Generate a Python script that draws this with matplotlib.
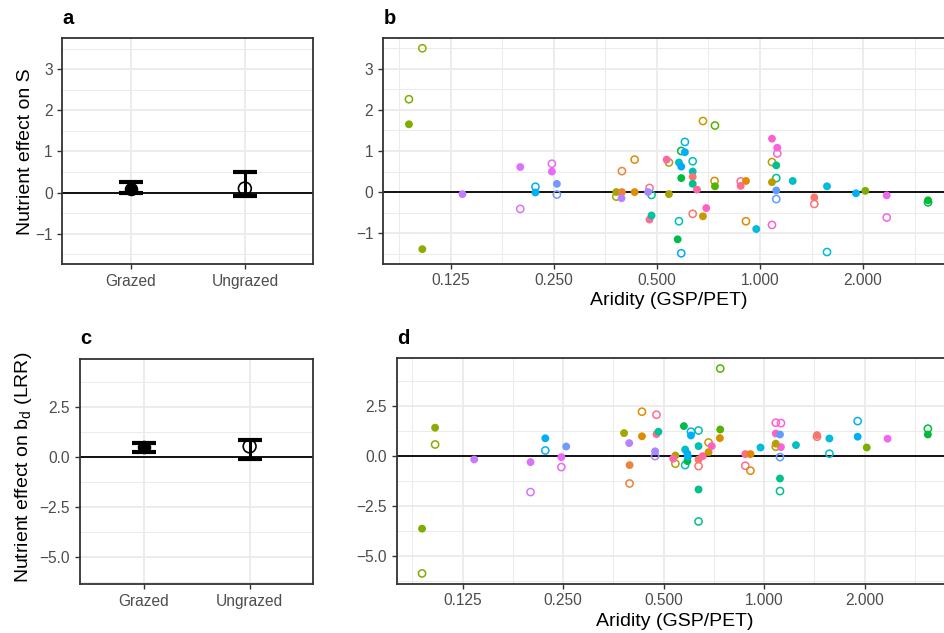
#!/usr/bin/env python3
import numpy as np
import matplotlib
matplotlib.use("Agg")
import matplotlib.pyplot as plt
from matplotlib.ticker import FixedLocator, NullFormatter

plt.rcParams["font.family"] = ["Liberation Sans", "DejaVu Sans"]
plt.rcParams["mathtext.fontset"] = "custom"
plt.rcParams["mathtext.rm"] = "Liberation Sans"

# ---- summary panels (a, c) ----
treatments = ["Grazed", "Ungrazed"]
s_mean = [0.08, 0.10]
s_lo = [-0.02, -0.08]
s_hi = [0.27, 0.50]
bd_mean = [0.47, 0.52]
bd_lo = [0.22, -0.09]
bd_hi = [0.69, 0.82]

# ---- per-site values (b, d); NaN = not visible ----
nan = np.nan
site_aridity = [0.0945, 0.1034, 0.1354, 0.1997, 0.2211, 0.2470, 0.2554, 0.3807,
                0.3954, 0.3944, 0.4307, 0.4715, 0.4760, 0.4825, 0.5424, 0.5341,
                0.5751, 0.5801, 0.6038, 0.5891, 0.5891, 0.6363, 0.6363, 0.6363,
                0.6548, 0.6817, 0.6970, 0.7389, 0.7370, 0.8784, 0.9101, 0.9754,
                1.0840, 1.1233, 1.0840, 1.1158, 1.1158, 1.2459, 1.4407, 1.5691,
                1.9066, 2.0298, 2.3440, 3.0944, 0.5913]
site_color = ["#7CAE00", "#8FAA00", "#C77CFF", "#DB72FB", "#00B0F6", "#E76BF3",
              "#7399FF", "#A3A500", "#EC823C", "#B983FF", "#DE8C00", "#A58AFF",
              "#FF6C91", "#00C1A3", "#ABA300", "#FF66A8", "#00BB4E", "#00BFC4",
              "#00B0F6", "#00A9FF", "#00BA38", "#00C0B5", "#F8766D", "#00C08B",
              "#FF67A4", "#C99800", "#FF61C3", "#53B400", "#D89000", "#FF6C91",
              "#E58700", "#00BCD8", "#FF61C9", "#F962DD", "#BB9D00", "#00C08B",
              "#619CFF", "#00BFC4", "#F8766D", "#00BCD8", "#00B0F6", "#7CAE00",
              "#ED68ED", "#00BA38", "#00B3F3"]
s_grazed = [1.65, -1.39, -0.05, 0.61, -0.01, 0.50, 0.20, 0.00, 0.00, -0.15,
            0.00, 0.00, -0.67, -0.57, -0.05, 0.79, -1.15, 0.72, 0.97, 0.62,
            0.34, 0.50, 0.37, 0.20, 0.06, -0.59, -0.39, 0.14, nan, 0.15,
            0.27, -0.90, 1.30, 1.08, 0.24, 0.65, 0.04, 0.27, -0.13, 0.14,
            -0.03, 0.03, -0.08, -0.20, nan]
s_ungrazed = [2.26, 3.50, nan, -0.41, 0.13, 0.69, -0.06, -0.11, 0.51, nan,
              0.79, nan, 0.10, -0.07, 0.72, nan, nan, -0.71, 1.22, -1.49,
              1.00, 0.75, -0.53, nan, nan, 1.73, nan, 1.62, 0.27, 0.26,
              -0.71, nan, -0.80, 0.94, 0.73, 0.34, -0.17, nan, -0.29, -1.46,
              nan, nan, -0.62, -0.25, nan]
bd_grazed = [-3.63, 1.42, -0.17, -0.30, 0.89, -0.05, 0.48, 1.15, -0.45, 0.65,
             0.99, 0.24, 1.10, 1.22, 0.03, -0.13, 1.50, 0.33, 1.03, 0.12,
             -0.25, 0.50, -0.17, -1.67, 0.00, 0.20, 0.50, 1.33, 0.90, 0.10,
             0.10, 0.43, 1.13, 0.45, 0.62, -1.12, 1.08, 0.55, 1.05, 0.88,
             0.97, 0.43, 0.87, 1.08, -0.03]
bd_ungrazed = [-5.87, 0.58, nan, -1.80, 0.28, -0.55, nan, nan, -1.37, nan,
               2.22, 0.00, 2.07, nan, -0.38, nan, nan, -0.45, 1.22, nan,
               nan, 1.28, -0.50, -3.27, nan, 0.68, nan, 4.38, nan, -0.48,
               -0.73, nan, 1.67, 1.65, 0.47, -1.75, -0.05, nan, 0.97, 0.12,
               1.75, nan, nan, 1.37, nan]

xtick_vals = [0.125, 0.25, 0.5, 1.0, 2.0]
xtick_labels = ["0.125", "0.250", "0.500", "1.000", "2.000"]

TICK_COL = "#4D4D4D"
EDGE_COL = "#333333"
GRID_COL = "#EBEBEB"
TITLE_SIZE = 14.0


def padded(values, frac=0.05):
    v = np.asarray(values, dtype=float)
    v = v[~np.isnan(v)]
    lo, hi = v.min(), v.max()
    pad = (hi - lo) * frac
    return lo - pad, hi + pad


def style_axes(ax):
    for sp in ax.spines.values():
        sp.set_color(EDGE_COL)
        sp.set_linewidth(1.3)
    ax.tick_params(which="major", length=3.5, width=1.0, color=EDGE_COL,
                   labelcolor=TICK_COL, labelsize=11.2, pad=3.5)
    ax.tick_params(which="minor", length=0)
    ax.grid(which="major", color=GRID_COL, linewidth=1.3)
    ax.grid(which="minor", color=GRID_COL, linewidth=0.7)
    ax.set_axisbelow(True)


def half_steps(ticks):
    step = ticks[1] - ticks[0]
    return np.arange(ticks[0] - 3 * step, ticks[-1] + 3 * step, step) + step / 2


def summary_panel(ax, means, los, his, ylim, yticks, yticklabels):
    xs = np.arange(1, len(treatments) + 1)
    ax.axhline(0, color="black", linewidth=1.3, zorder=2)
    for x, m, lo, hi, filled in zip(xs, means, los, his, [True, False]):
        ax.errorbar([x], [m], yerr=[[m - lo], [hi - m]], fmt="none",
                    ecolor="black", elinewidth=2.2, capsize=8.5, capthick=3.0,
                    zorder=3)
        if filled:
            ax.scatter([x], [m], s=95, color="black", zorder=4, linewidths=0)
        else:
            ax.scatter([x], [m], s=85, facecolors="none", edgecolors="black",
                       linewidths=1.2, zorder=4)
    ax.set_xlim(0.4, 2.6)
    ax.set_ylim(*ylim)
    ax.set_xticks(xs)
    ax.set_xticklabels(treatments)
    ax.set_yticks(yticks)
    ax.set_yticklabels(yticklabels)
    ax.yaxis.set_minor_locator(FixedLocator(half_steps(yticks)))
    style_axes(ax)


def site_panel(ax, grazed, ungrazed, ylim, yticks, yticklabels):
    ax.axhline(0, color="black", linewidth=1.3, zorder=2)
    arid = np.asarray(site_aridity)
    g = np.asarray(grazed, dtype=float)
    u = np.asarray(ungrazed, dtype=float)
    cols = np.asarray(site_color)
    mu = ~np.isnan(u)
    ax.scatter(arid[mu], u[mu], s=27, facecolors="none", edgecolors=cols[mu],
               linewidths=1.1, zorder=3)
    mg = ~np.isnan(g)
    ax.scatter(arid[mg], g[mg], s=32, color=cols[mg], linewidths=0, zorder=4)
    ax.set_xscale("log", base=2)
    lo, hi = padded(np.log2(arid))
    ax.set_xlim(2 ** lo, 2 ** hi)
    ax.set_ylim(*ylim)
    ax.xaxis.set_major_locator(FixedLocator(xtick_vals))
    ax.set_xticklabels(xtick_labels)
    ax.xaxis.set_minor_locator(FixedLocator([2 ** (k + 0.5) for k in range(-5, 3)]))
    ax.xaxis.set_minor_formatter(NullFormatter())
    ax.set_yticks(yticks)
    ax.set_yticklabels(yticklabels)
    ax.yaxis.set_minor_locator(FixedLocator(half_steps(yticks)))
    style_axes(ax)
    ax.set_xlabel("Aridity (GSP/PET)", fontsize=TITLE_SIZE, color="black")


def main():
    fig = plt.figure(figsize=(9.44, 6.33), dpi=100)
    ax_a = fig.add_axes([0.0660, 0.5825, 0.2659, 0.3570])
    ax_b = fig.add_axes([0.4057, 0.5837, 0.6049, 0.3562])
    ax_c = fig.add_axes([0.0847, 0.0769, 0.2471, 0.3559])
    ax_d = fig.add_axes([0.4203, 0.0779, 0.5894, 0.3561])

    ylim_s = padded(s_grazed + s_ungrazed)
    ylim_bd = padded(bd_grazed + bd_ungrazed)

    s_ticks = [-1, 0, 1, 2, 3]
    s_labels = ["\u22121", "0", "1", "2", "3"]
    bd_ticks = [-5.0, -2.5, 0.0, 2.5]
    bd_labels = ["\u22125.0", "\u22122.5", "0.0", "2.5"]

    summary_panel(ax_a, s_mean, s_lo, s_hi, ylim_s, s_ticks, s_labels)
    summary_panel(ax_c, bd_mean, bd_lo, bd_hi, ylim_bd, bd_ticks, bd_labels)
    site_panel(ax_b, s_grazed, s_ungrazed, ylim_s, s_ticks, s_labels)
    site_panel(ax_d, bd_grazed, bd_ungrazed, ylim_bd, bd_ticks, bd_labels)

    ax_a.set_ylabel("Nutrient effect on S", fontsize=TITLE_SIZE)
    ax_a.yaxis.set_label_coords(-0.112, 0.5)
    ax_c.set_ylabel(r"Nutrient effect on b$_\mathregular{d}$ (LRR)", fontsize=TITLE_SIZE)
    ax_c.yaxis.set_label_coords(-0.195, 0.52)

    ax_b.xaxis.set_label_coords(0.5, -0.128)
    ax_d.xaxis.set_label_coords(0.5, -0.131)
    ax_b.xaxis.label.set_va("top")
    ax_d.xaxis.label.set_va("top")

    for label, (px, py) in zip("abcd", [(62.7, 24.3), (383.3, 24.3), (80, 344.3), (396.8, 344.3)]):
        fig.text(px / 944, 1 - py / 633, label, fontsize=14.5, fontweight="bold",
                 va="baseline", ha="left")

    fig.savefig("out.png", dpi=100)
    plt.close(fig)
    return 0


if __name__ == "__main__":
    raise SystemExit(main())
